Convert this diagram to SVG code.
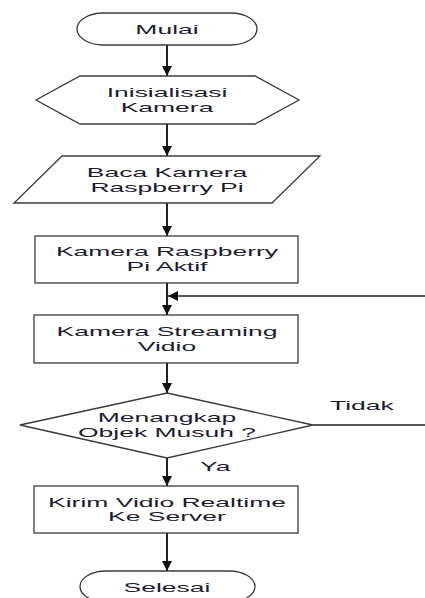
<svg xmlns="http://www.w3.org/2000/svg" width="425" height="598" viewBox="0 0 425 598">
<style>
.shape{fill:#fff;stroke:#3a3a3a;stroke-width:1.3}
.conn{fill:none;stroke:#222;stroke-width:2}
text{font-family:"Liberation Sans",Arial,sans-serif;font-size:12.5px;fill:#1c1c30}
.c{text-anchor:middle}
</style>
<defs>
<marker id="ah" viewBox="0 0 10 10" refX="10" refY="5" markerWidth="10" markerHeight="10" markerUnits="userSpaceOnUse" orient="auto">
<path d="M0,0 L10,5 L0,10 Z" fill="#111"/>
</marker>
</defs>
<g id="connectors">
<line class="conn" x1="167" y1="45" x2="167" y2="76" marker-end="url(#ah)"/>
<line class="conn" x1="167" y1="124" x2="167" y2="156" marker-end="url(#ah)"/>
<line class="conn" x1="167" y1="203" x2="167" y2="236" marker-end="url(#ah)"/>
<line class="conn" x1="167" y1="283" x2="167" y2="315" marker-end="url(#ah)"/>
<line class="conn" x1="167" y1="363" x2="167" y2="393" marker-end="url(#ah)"/>
<line class="conn" x1="167" y1="458" x2="167" y2="486" marker-end="url(#ah)"/>
<line class="conn" x1="167" y1="533" x2="167" y2="571" marker-end="url(#ah)"/>
<path class="conn" style="stroke-width:1.4" d="M313,425 H428 V296 H168" marker-end="url(#ah)"/>
<g transform="translate(330,0) scale(2.12,1)"><text x="0" y="410">Tidak</text></g>
<g transform="translate(200,0) scale(2.12,1)"><text x="0" y="471">Ya</text></g>
</g>
<g id="mulai">
<rect class="shape" x="77" y="13" width="180" height="32" rx="26" ry="16"/>
<g transform="translate(167,0) scale(2.12,1)"><text class="c" x="0" y="34">Mulai</text></g>
</g>
<g id="inisialisasi">
<polygon class="shape" points="36,100 80,76 255,76 299,100 255,124 80,124"/>
<g transform="translate(167,0) scale(2.12,1)"><text class="c" x="0" y="97.5">Inisialisasi</text><text class="c" x="0" y="112">Kamera</text></g>
</g>
<g id="baca">
<polygon class="shape" points="62,156 320,156 272,203 14,203"/>
<g transform="translate(167,0) scale(2.12,1)"><text class="c" x="0" y="177.5">Baca Kamera</text><text class="c" x="0" y="192">Raspberry Pi</text></g>
</g>
<g id="aktif">
<rect class="shape" x="35" y="236" width="263" height="47"/>
<g transform="translate(167,0) scale(2.12,1)"><text class="c" x="0" y="256.5">Kamera Raspberry</text><text class="c" x="0" y="271">Pi Aktif</text></g>
</g>
<g id="streaming">
<rect class="shape" x="34" y="315" width="264" height="48"/>
<g transform="translate(167,0) scale(2.12,1)"><text class="c" x="0" y="336.5">Kamera Streaming</text><text class="c" x="0" y="351">Vidio</text></g>
</g>
<g id="menangkap">
<polygon class="shape" points="167,393 313,425 167,458 20,425"/>
<g transform="translate(167,0) scale(2.12,1)"><text class="c" x="0" y="422">Menangkap</text><text class="c" x="0" y="437">Objek Musuh ?</text></g>
</g>
<g id="kirim">
<rect class="shape" x="34" y="486" width="264" height="47"/>
<g transform="translate(167,0) scale(2.12,1)"><text class="c" x="0" y="507">Kirim Vidio Realtime</text><text class="c" x="0" y="521.5">Ke Server</text></g>
</g>
<g id="selesai">
<rect class="shape" x="80" y="571" width="175" height="31" rx="26" ry="15.5"/>
<g transform="translate(167,0) scale(2.12,1)"><text class="c" x="0" y="592">Selesai</text></g>
</g>
</svg>
